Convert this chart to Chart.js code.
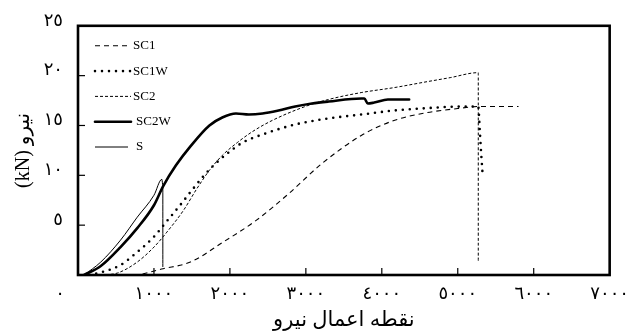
<!DOCTYPE html>
<html>
<head>
<meta charset="utf-8">
<script src="https://cdn.jsdelivr.net/npm/chart.js@4.4.0/dist/chart.umd.min.js"></script>
<style>
  html, body { margin: 0; padding: 0; background: #fff; }
  #wrap { width: 637px; height: 333px; position: relative; }
</style>
</head>
<body>
<div id="wrap"><canvas id="chart"></canvas></div>
<script>
// Load-displacement curves
const sc1X = [850, 1100, 1480, 1910, 2350, 2780, 3215, 3730, 4160, 4600, 5000, 5270, 5800];
const sc1Y = [0.1, 0.6, 1.3, 3.3, 5.5, 8.2, 11.2, 14.0, 15.5, 16.3, 16.7, 16.9, 16.9];

const sc1wX = [150, 320, 560, 780, 995, 1170, 1365, 1520, 1650, 1800, 2000, 2170, 2470, 2860, 3290, 3730, 4160, 4510, 5070, 5270, 5290, 5310, 5330];
const sc1wY = [0, 0.3, 1.0, 2.3, 3.8, 5.4, 7.2, 8.7, 9.9, 11.1, 12.4, 13.3, 14.2, 15.1, 15.7, 16.1, 16.5, 16.7, 16.9, 16.9, 14.5, 12.0, 9.8];

const sc2X = [300, 520, 780, 1000, 1170, 1390, 1560, 1730, 1900, 2100, 2300, 2556, 2990, 3294, 3728, 4163, 4600, 4900, 5270, 5270];
const sc2Y = [0, 0.2, 1.3, 2.8, 4.3, 6.5, 8.6, 10.5, 12.0, 13.3, 14.4, 15.5, 16.9, 17.6, 18.3, 18.8, 19.4, 19.8, 20.3, 1.3];

const sc2wX = [80, 300, 560, 780, 1000, 1120, 1290, 1480, 1730, 1900, 2080, 2250, 2430, 2640, 2860, 3080, 3300, 3730, 3770, 3815, 3900, 4080, 4360];
const sc2wY = [0, 0.9, 2.8, 4.7, 7.0, 8.9, 11.0, 12.9, 15.0, 15.8, 16.2, 16.1, 16.2, 16.5, 16.9, 17.2, 17.4, 17.7, 17.7, 17.2, 17.3, 17.6, 17.6];

const sX = [80, 300, 560, 780, 1000, 1104, 1117, 1117];
const sY = [0, 1.3, 3.5, 5.8, 8.0, 9.6, 9.0, 0.8];

const seriesNames = ['SC1', 'SC1W', 'SC2', 'SC2W', 'S'];
const xTicks = [0, 1000, 2000, 3000, 4000, 5000, 6000, 7000];
const yTicks = [0, 5, 10, 15, 20, 25];
const xTitle = 'نقطه اعمال نیرو';
const yTitle = '(kN) نیرو';

const arabicDigits = '٠١٢٣٤٥٦٧٨٩';
function toArabic(n) {
    return String(n).replace(/[0-9]/g, d => arabicDigits[d]);
}
function pts(xs, ys) {
    return xs.map((x, i) => ({ x: x, y: ys[i] }));
}

const styles = [
    { borderWidth: 1.1, borderDash: [5, 4], borderCapStyle: 'butt' },
    { borderWidth: 2.6, borderDash: [0, 7], borderCapStyle: 'round' },
    { borderWidth: 1, borderDash: [3, 2], borderCapStyle: 'butt' },
    { borderWidth: 2.6, borderDash: [], borderCapStyle: 'round' },
    { borderWidth: 1, borderDash: [], borderCapStyle: 'butt' }
];
const allData = [pts(sc1X, sc1Y), pts(sc1wX, sc1wY), pts(sc2X, sc2Y), pts(sc2wX, sc2wY), pts(sX, sY)];

const datasets = seriesNames.map((name, i) => Object.assign({
    label: name,
    data: allData[i],
    borderColor: '#000',
    backgroundColor: '#000',
    pointRadius: 0,
    fill: false,
    cubicInterpolationMode: 'monotone'
}, styles[i]));

const serif = "'Liberation Serif', 'DejaVu Sans', serif";

// frame, inward ticks and in-plot legend
const framePlugin = {
    id: 'frame',
    afterDatasetsDraw(chart) {
        const ctx = chart.ctx;
        const a = chart.chartArea;
        const xs = chart.scales.x, ys = chart.scales.y;
        ctx.save();
        ctx.strokeStyle = '#000';
        ctx.lineWidth = 1.2;
        ctx.setLineDash([]);
        xTicks.slice(1, -1).forEach(v => {
            const px = xs.getPixelForValue(v);
            ctx.beginPath();
            ctx.moveTo(px, a.bottom);
            ctx.lineTo(px, a.bottom - 7);
            ctx.stroke();
        });
        yTicks.slice(1, -1).forEach(v => {
            const py = ys.getPixelForValue(v);
            ctx.beginPath();
            ctx.moveTo(a.left, py);
            ctx.lineTo(a.left + 7, py);
            ctx.stroke();
        });
        ctx.lineWidth = 2.6;
        ctx.strokeRect(a.left, a.top, a.right - a.left, a.bottom - a.top);

        // legend
        ctx.font = '13px ' + serif;
        ctx.fillStyle = '#000';
        ctx.textBaseline = 'middle';
        chart.data.datasets.forEach((ds, i) => {
            const y = a.top + 20 + i * 25.3;
            const x0 = a.left + 17;
            const x1 = a.left + (i === 4 ? 50 : 53);
            ctx.lineWidth = ds.borderWidth;
            ctx.setLineDash(ds.borderDash);
            ctx.lineCap = ds.borderCapStyle;
            ctx.beginPath();
            ctx.moveTo(x0, y);
            ctx.lineTo(x1, y);
            ctx.stroke();
            ctx.setLineDash([]);
            ctx.fillText(ds.label, a.left + (i === 3 || i === 4 ? 58 : 55), y);
        });
        ctx.restore();
    }
};

const ctx = document.getElementById('chart').getContext('2d');
const chart = new Chart(ctx, {
    type: 'line',
    data: { datasets: datasets },
    options: {
        responsive: true,
        maintainAspectRatio: false,
        animation: false,
        layout: { padding: { top: 25, right: 22, left: 0, bottom: 0 } },
        plugins: {
            legend: { display: false },
            tooltip: { enabled: false }
        },
        scales: {
            x: {
                type: 'linear',
                min: 0,
                max: 7000,
                afterFit(scale) { scale.height = 58; },
                afterBuildTicks(scale) { scale.ticks = xTicks.map(v => ({ value: v })); },
                grid: { display: false, drawTicks: false },
                border: { display: false },
                ticks: {
                    padding: 8,
                    color: '#000',
                    font: { family: serif, size: 18 },
                    maxRotation: 0,
                    autoSkip: false,
                    callback: v => v === 0 ? toArabic(v) + '\u00a0\u00a0\u00a0\u00a0\u00a0\u00a0\u00a0\u00a0' : toArabic(v)
                },
                title: {
                    display: true,
                    text: xTitle,
                    color: '#000',
                    font: { family: serif, size: 21 },
                    padding: { top: 0, bottom: 0 }
                }
            },
            y: {
                min: 0,
                max: 25,
                afterFit(scale) { scale.width = 78; },
                afterBuildTicks(scale) { scale.ticks = yTicks.map(v => ({ value: v })); },
                grid: { display: false, drawTicks: false },
                border: { display: false },
                ticks: {
                    padding: 15,
                    labelOffset: -5,
                    color: '#000',
                    font: { family: serif, size: 18 },
                    callback: v => v === 0 ? '' : toArabic(v)
                },
                title: {
                    display: true,
                    text: yTitle,
                    color: '#000',
                    font: { family: serif, size: 20 },
                    padding: { top: 12, bottom: 0 }
                }
            }
        }
    },
    plugins: [framePlugin]
});
</script>
</body>
</html>
